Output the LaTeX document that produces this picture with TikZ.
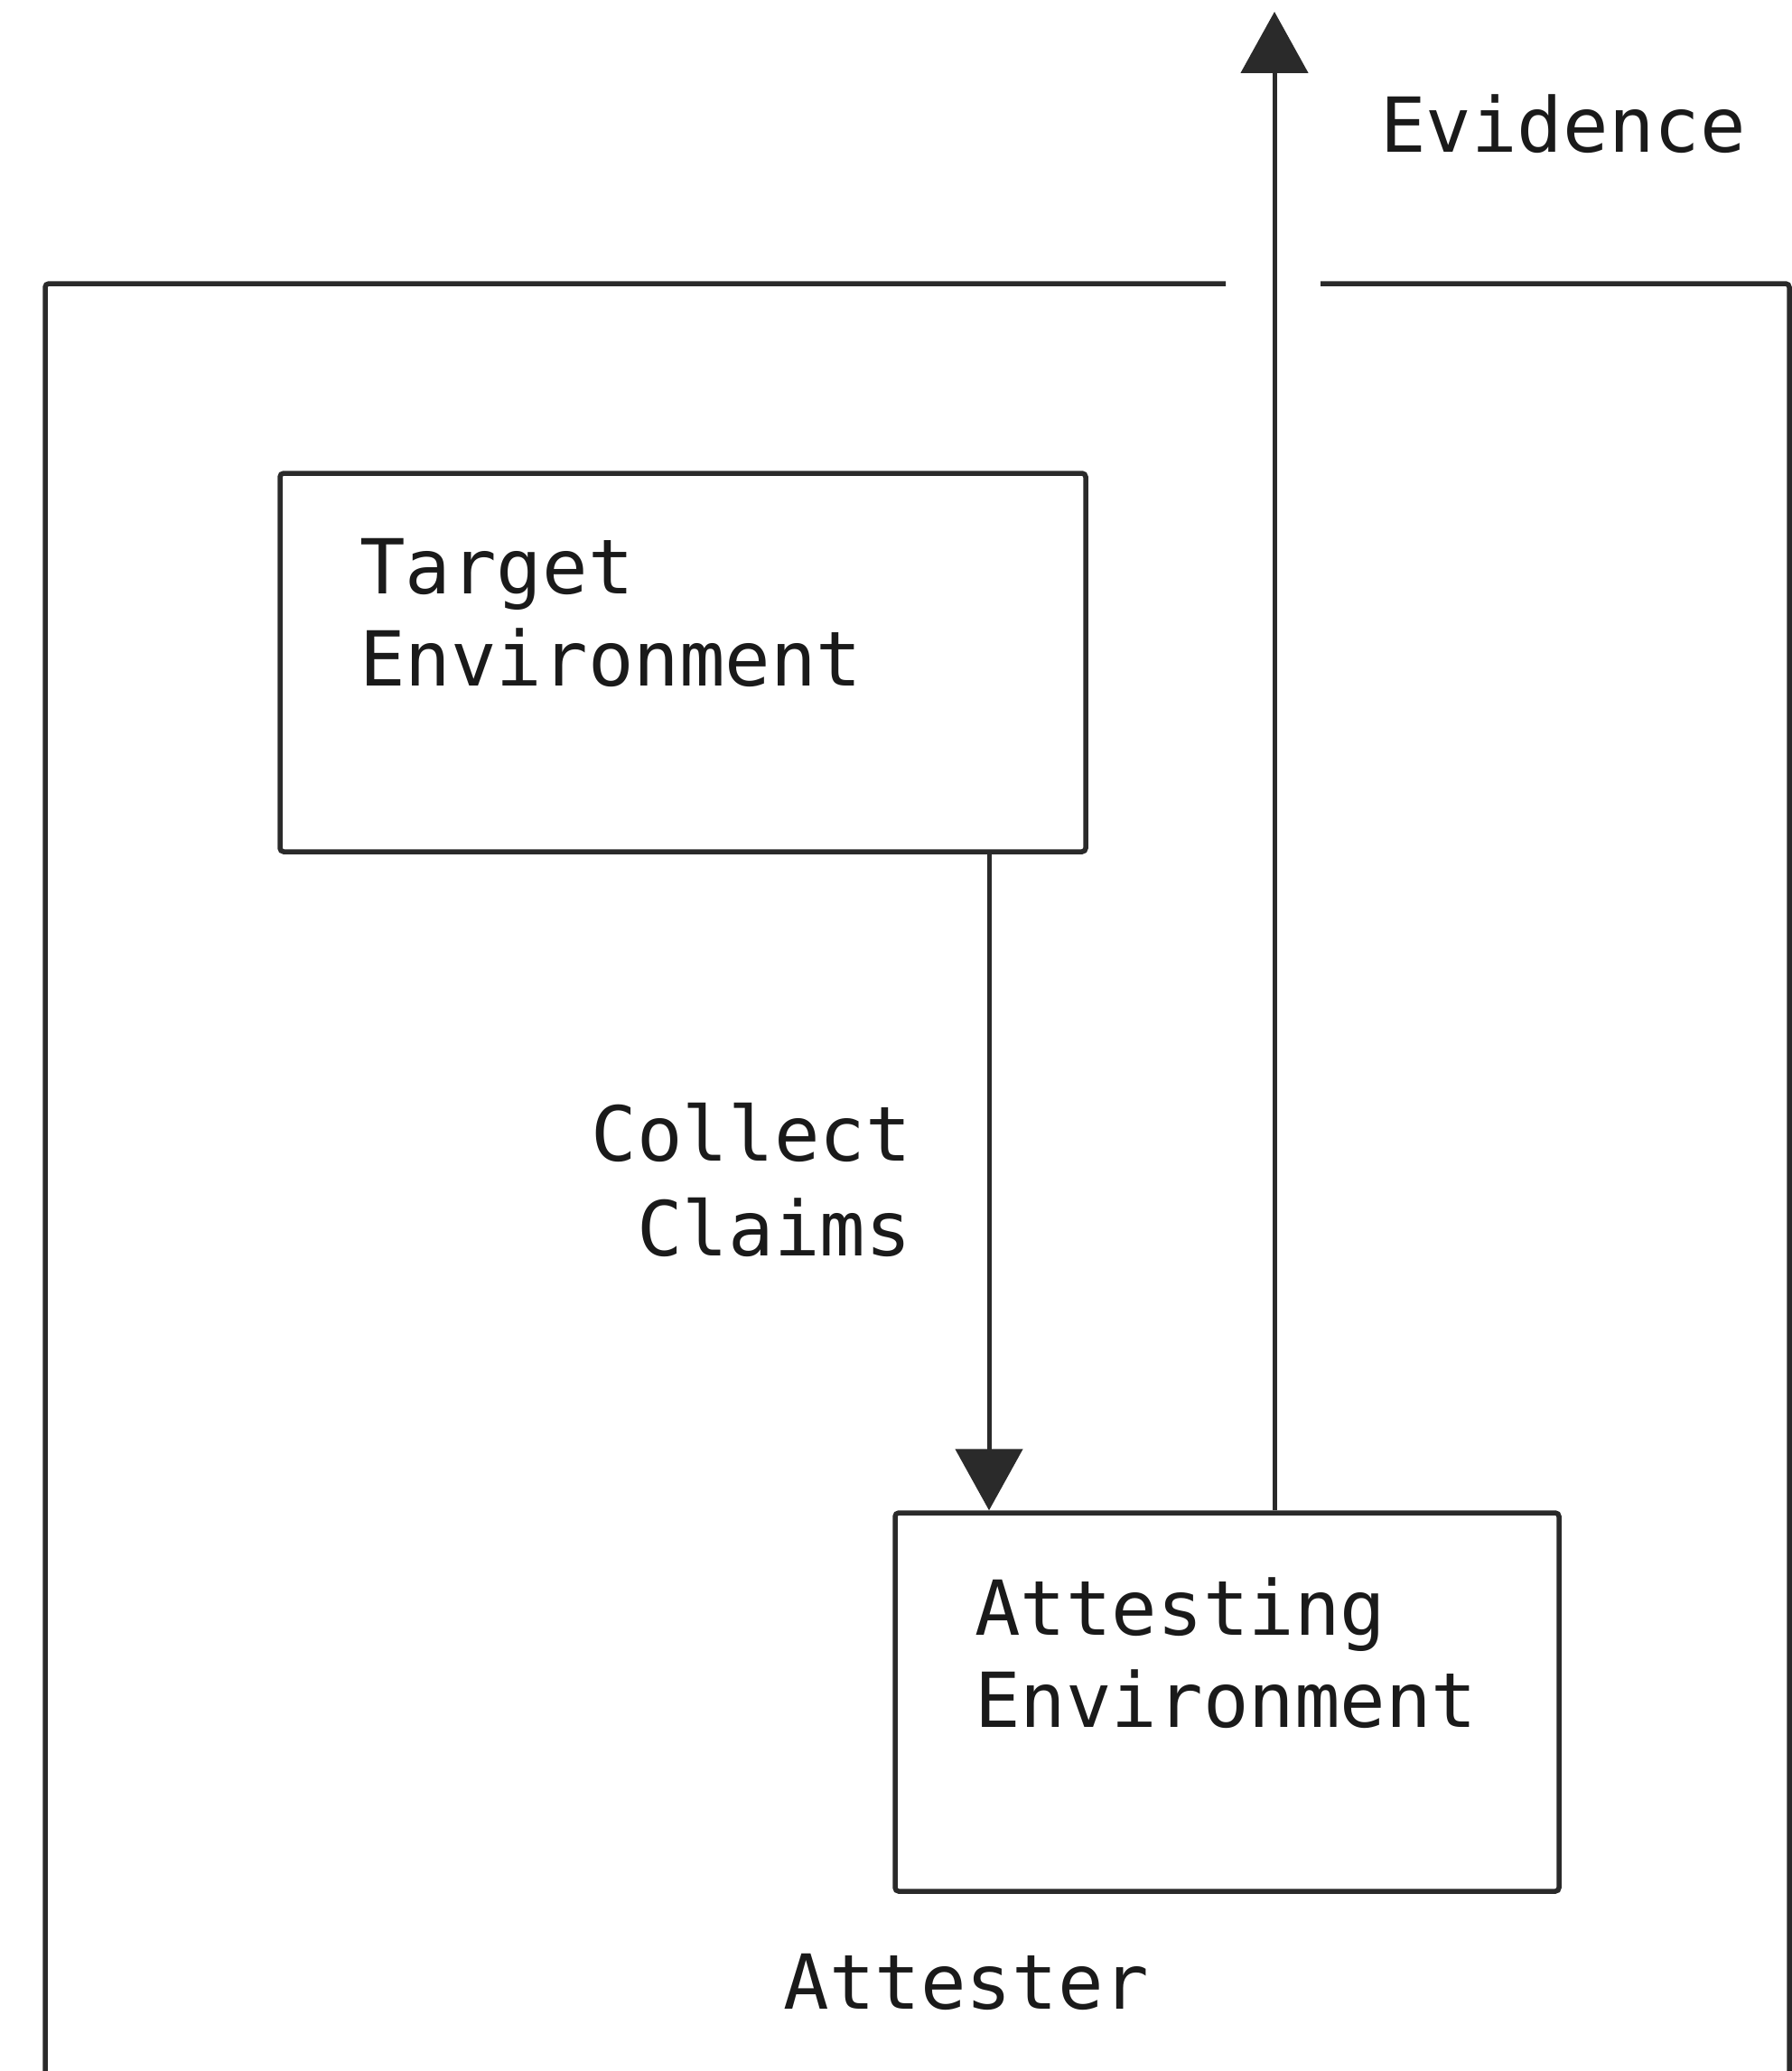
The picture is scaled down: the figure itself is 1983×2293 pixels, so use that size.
\documentclass[tikz,border=0pt]{standalone}
\usepackage{fontspec}
\newfontfamily\diagfont{DejaVu Sans Mono}
\usetikzlibrary{arrows.meta}
\definecolor{inkline}{HTML}{2A2A2A}
\definecolor{inktext}{HTML}{1A1A1A}
\tikzset{
  boxstyle/.style={draw=inkline, line width=5.5pt, rounded corners=4pt, rectangle, inner sep=0pt},
  lbl/.style={inner sep=0pt, text=inktext, font=\diagfont\fontsize{84}{102}\selectfont},
  conn/.style={draw=inkline, line width=5pt},
  arrowconn/.style={conn, -{Triangle[length=68pt,width=74pt]}},
}
\begin{document}
\begin{tikzpicture}[x=1pt,y=-1pt]
\useasboundingbox (0,0) rectangle (1983,2293);
\fill[white] (0,0) rectangle (1983,2293);

% outer Attester box (open at the bottom, gap at top for the Evidence arrow)
\coordinate (otl) at (50,314);
\coordinate (otr) at (1981,314);
\coordinate (gapl) at (1357,314);
\coordinate (gapr) at (1462,314);
\coordinate (obl) at (50,2300);
\coordinate (obr) at (1981,2300);
\draw[conn, line width=5.5pt, rounded corners=4pt] (gapl) -- (otl) -- (obl);
\draw[conn, line width=5.5pt, rounded corners=4pt] (gapr) -- (otr) -- (obr);

% boxes
\node[boxstyle, minimum width=892pt, minimum height=419pt] (target) at (756,733.5) {};
\node[boxstyle, minimum width=735pt, minimum height=419pt] (attest) at (1358.5,1884.5) {};

% texts
\node[lbl, anchor=base west] (t1) at (398,657) {Target};
\node[lbl, anchor=base west] (t2) at (398,759) {Environment};
\node[lbl, anchor=base west] (a1) at (1079,1810) {Attesting};
\node[lbl, anchor=base west] (a2) at (1079,1912) {Environment};
\node[lbl, anchor=base east] (c1) at (1009,1285) {Collect};
\node[lbl, anchor=base east] (c2) at (1009,1390) {Claims};
\node[lbl, anchor=base] (att) at (1070,2224) {Attester};
\node[lbl, anchor=base west] (ev) at (1528,169) {Evidence};

% connectors
\coordinate (cx) at (1095,0);
\draw[arrowconn] (target.south -| cx) -- (attest.north -| cx);
\coordinate (evtop) at (1411,13);
\draw[arrowconn] (attest.north -| evtop) -- (evtop);
\end{tikzpicture}
\end{document}
